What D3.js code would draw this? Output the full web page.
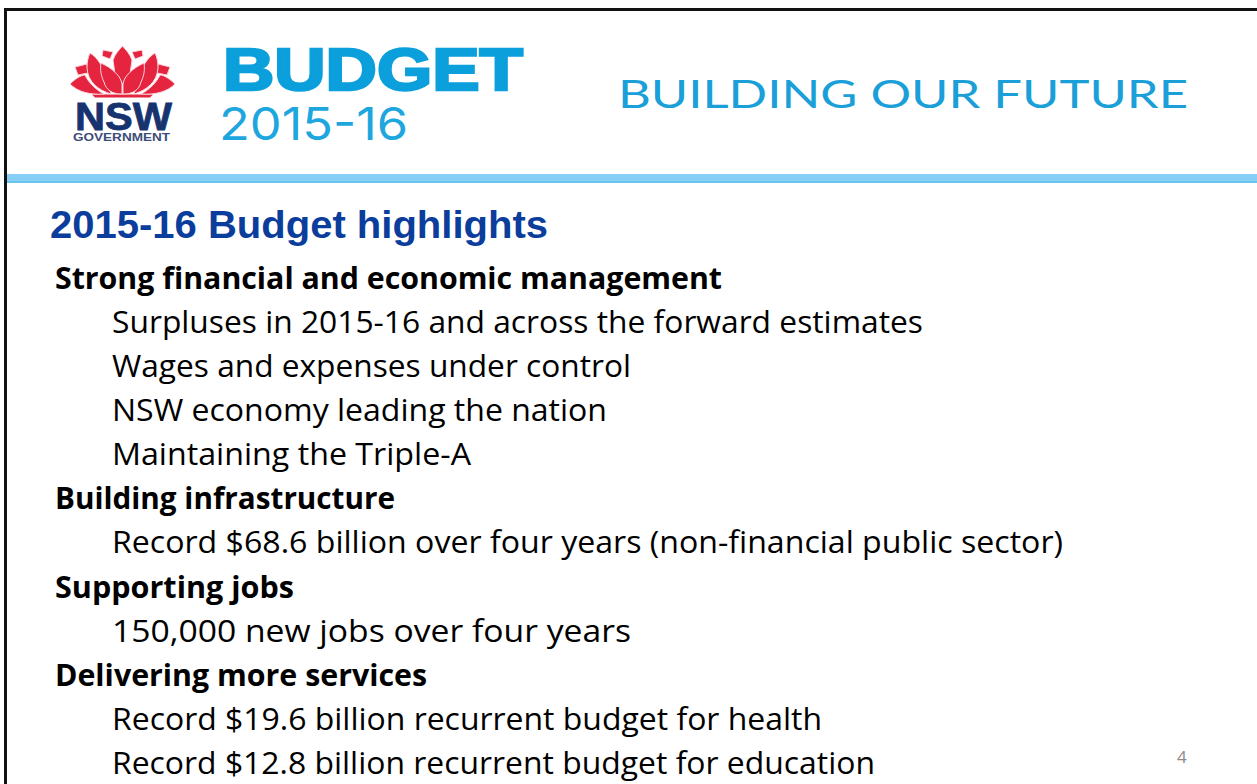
<!DOCTYPE html>
<html><head><meta charset="utf-8">
<script src="https://cdn.jsdelivr.net/npm/d3@7"></script>
<style>html,body{margin:0;padding:0;background:#fff;overflow:hidden}svg{display:block}</style>
</head><body><div id="c"></div>
<script>
const slideTitle = "2015-16 Budget highlights";
const rows = [
 [0,"Strong financial and economic management"],
 [1,"Surpluses in 2015-16 and across the forward estimates"],
 [1,"Wages and expenses under control"],
 [1,"NSW economy leading the nation"],
 [1,"Maintaining the Triple-A"],
 [0,"Building infrastructure"],
 [1,"Record $68.6 billion over four years (non-financial public sector)"],
 [0,"Supporting jobs"],
 [1,"150,000 new jobs over four years"],
 [0,"Delivering more services"],
 [1,"Record $19.6 billion recurrent budget for health"],
 [1,"Record $12.8 billion recurrent budget for education"]
];
const rowY = [289,333,377,421,465,509,553,598,642,686,730,774];
const rowW = [667,811,519,495,359,340,951,239,519,372,710,763];

const svg = d3.select("#c").append("svg").attr("width",1257).attr("height",784);
svg.append("rect").attr("width",1257).attr("height",784).attr("fill","#fff");
svg.append("path").attr("d","M5.5,784V9.5H1257").attr("fill","none").attr("stroke","#111").attr("stroke-width",3);
svg.append("rect").attr("x",7).attr("y",174).attr("width",1250).attr("height",9).attr("fill","#86cff6");
svg.append("rect").attr("x",7).attr("y",181).attr("width",1250).attr("height",2).attr("fill","#6cc5f1");

const red="#e5243f";
const flower = svg.append("g");
flower.append("path").attr("d","M122.5,46 C126,50 130,54 132,60 L130,74 L122.5,84 L115,74 L113,60 C115,54 119,50 122.5,46 Z")
  .attr("fill",red).attr("stroke","#fbd5da").attr("stroke-width",1);
flower.append("path").attr("d","M92,94.5 H153 L150,97.5 H95 Z").attr("fill",red);
const halfPetals = [
 "M103,50 L113,52 L110,59 L102,56 Z",
 "M75,67 L87,64 L88,73 L78,75 Z",
 "M90,53 C98,58 104,68 106,78 C108,84 110,90 111,94 C98,90 88,82 87,68 C87,62 88,57 90,53 Z",
 "M70,84 C75,79 81,75 85,75 C88,82 96,90 104,94 C90,95 78,92 70,84 Z",
 "M101,63 C112,68 121,76 122,84 L122,94 C112,94 106,90 104,82 C101,76 100,70 101,63 Z"
];
[null,"translate(245,0) scale(-1,1)"].forEach(tf=>{
  flower.append("g").attr("transform",tf).selectAll("path").data(halfPetals).join("path")
   .attr("d",d=>d).attr("fill",red).attr("stroke","#fbd5da").attr("stroke-width",1);
});

const t=(x,y,s,o)=>{const e=svg.append("text").attr("x",x).attr("y",y).text(s);
  Object.entries(o).forEach(([k,v])=>e.attr(k,v));return e;};
t(75,130,"NSW",{"font-family":"Liberation Sans","font-weight":700,"font-size":38,"fill":"#16336f","textLength":97,"lengthAdjust":"spacingAndGlyphs","stroke":"#16336f","stroke-width":0.8});
t(73,141,"GOVERNMENT",{"font-family":"Liberation Sans","font-weight":700,"font-size":10.5,"fill":"#3d4c78","textLength":97,"lengthAdjust":"spacingAndGlyphs"});
t(223,90,"BUDGET",{"font-family":"Liberation Sans","font-weight":700,"font-size":59,"fill":"#0b9fdc","textLength":300,"lengthAdjust":"spacingAndGlyphs","stroke":"#0b9fdc","stroke-width":2.5});
t(219,140,"2015-16",{"font-family":"Inter","font-weight":400,"font-size":45,"fill":"#1ea6de","textLength":189,"lengthAdjust":"spacingAndGlyphs"});
t(618,108,"BUILDING OUR FUTURE",{"font-family":"Lato","font-weight":400,"font-size":39,"fill":"#1a9fd8","textLength":570,"lengthAdjust":"spacingAndGlyphs"});

t(50,238,slideTitle,{"font-family":"Liberation Sans","font-weight":700,"font-size":38,"fill":"#0b3d9c","textLength":498,"lengthAdjust":"spacingAndGlyphs"});

svg.selectAll("text.r").data(rows).join("text").attr("class","r")
  .attr("x",d=>d[0]?112:55).attr("y",(d,i)=>rowY[i])
  .attr("font-family","Open Sans").attr("font-size",31)
  .attr("font-weight",d=>d[0]?400:700).attr("fill","#000")
  .attr("textLength",(d,i)=>rowW[i]).attr("lengthAdjust","spacingAndGlyphs")
  .text(d=>d[1]);

t(1177,763,"4",{"font-family":"Open Sans","font-size":17,"fill":"#8a8a8a"});
</script></body></html>
